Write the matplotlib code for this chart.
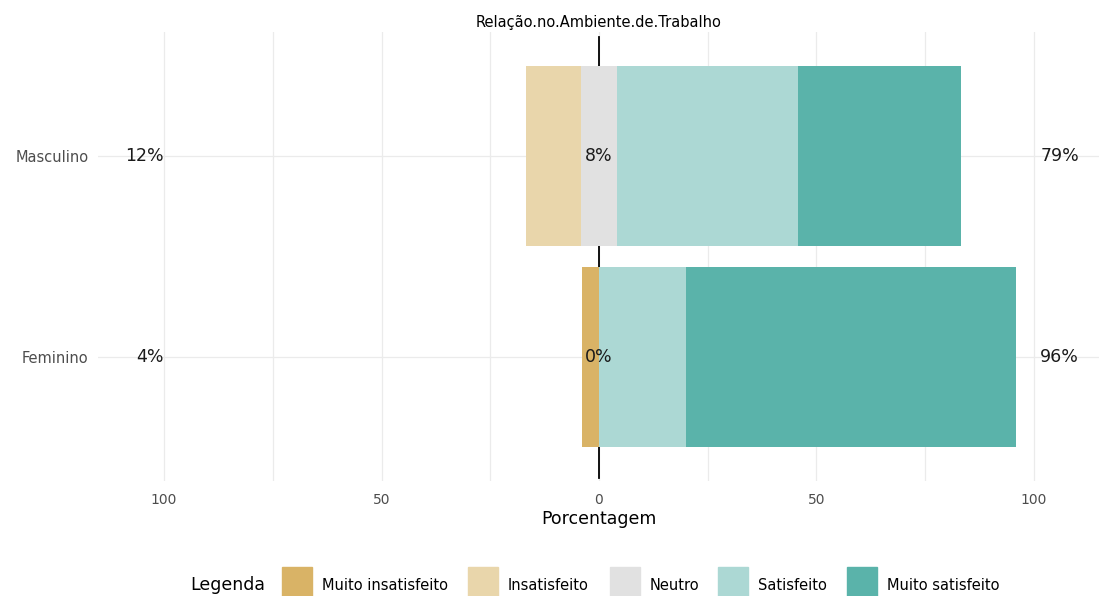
import numpy as np
import matplotlib
matplotlib.use('Agg')
import matplotlib.pyplot as plt
from matplotlib.patches import Rectangle

plt.rcParams['font.family'] = ['DejaVu Sans']

# dados (percentuais por grupo)
grupos = ['Feminino', 'Masculino']
categorias = ['Muito insatisfeito', 'Insatisfeito', 'Neutro', 'Satisfeito', 'Muito satisfeito']
muito_insatisfeito = [4.0, 0.0]
insatisfeito = [0.0, 12.5]
neutro = [0.0, 8.33]
satisfeito = [20.0, 41.67]
muito_satisfeito = [76.0, 37.5]

cores = ['#D9B366', '#E9D6AB', '#E1E1E1', '#ACD8D4', '#5AB3AA']

W, H = 1099, 596
fig = plt.figure(figsize=(W / 100, H / 100), dpi=100)
ax = fig.add_axes([98 / W, 1 - 481 / H, 1 - 98 / W, (481 - 32) / H])

y = np.arange(len(grupos)) + 1
alt = 0.9
meio = np.array(neutro) / 2

# lado negativo
esq = -meio
ax.barh(y, -np.array(insatisfeito), left=esq, height=alt, color=cores[1], zorder=3)
esq = esq - np.array(insatisfeito)
ax.barh(y, -np.array(muito_insatisfeito), left=esq, height=alt, color=cores[0], zorder=3)
# neutro
ax.barh(y, neutro, left=-meio, height=alt, color=cores[2], zorder=3)
# lado positivo
dir_ = meio.copy()
ax.barh(y, satisfeito, left=dir_, height=alt, color=cores[3], zorder=3)
dir_ = dir_ + np.array(satisfeito)
ax.barh(y, muito_satisfeito, left=dir_, height=alt, color=cores[4], zorder=3)

ax.axvline(0, ymin=0.007, ymax=0.989, color='black', lw=1.3, zorder=2)

# rotulos de porcentagem
for i, yy in enumerate(y):
    neg = round(muito_insatisfeito[i] + insatisfeito[i])
    pos = round(satisfeito[i] + muito_satisfeito[i])
    neu = round(neutro[i])
    ax.text(-100, yy, f'{neg}%', ha='right', va='center', fontsize=12.5, color='#1a1a1a', zorder=4)
    ax.text(101.5, yy, f'{pos}%', ha='left', va='center', fontsize=12.5, color='#1a1a1a', zorder=4)
    ax.text(0, yy, f'{neu}%', ha='center', va='center', fontsize=12.5, color='#1a1a1a', zorder=4)

ax.set_xlim(-115.2, 115)
ax.set_ylim(0.38, 2.62)
ax.set_xticks([-100, -50, 0, 50, 100])
ax.set_xticklabels(['100', '50', '0', '50', '100'])
ax.set_xticks([-75, -25, 25, 75], minor=True)
ax.set_yticks(y)
ax.set_yticklabels(grupos)
ax.grid(True, which='both', color='#EBEBEB', lw=0.9, zorder=0)
ax.tick_params(which='both', length=0)
ax.tick_params(axis='x', pad=9, labelsize=10, labelcolor='#4D4D4D')
ax.tick_params(axis='y', pad=7, labelsize=10.5, labelcolor='#4D4D4D')
for s in ax.spines.values():
    s.set_visible(False)

ax.set_xlabel('Porcentagem', fontsize=12.5, labelpad=2)
fig.text(599 / W, 1 - 23 / H, 'Relação.no.Ambiente.de.Trabalho', ha='center', va='center', fontsize=10.5)

# legenda
fig.text(190 / W, 1 - 585 / H, 'Legenda', ha='left', va='center', fontsize=12.5)
px = [282, 468, 610, 718, 847]
for cat, cor, x0 in zip(categorias, cores, px):
    fig.patches.append(Rectangle((x0 / W, 1 - 596 / H), 30 / W, 29 / H,
                                 transform=fig.transFigure, color=cor))
    fig.text((x0 + 40) / W, 1 - 585 / H, cat, ha='left', va='center', fontsize=10.5)

fig.savefig('out.png', dpi=100)
